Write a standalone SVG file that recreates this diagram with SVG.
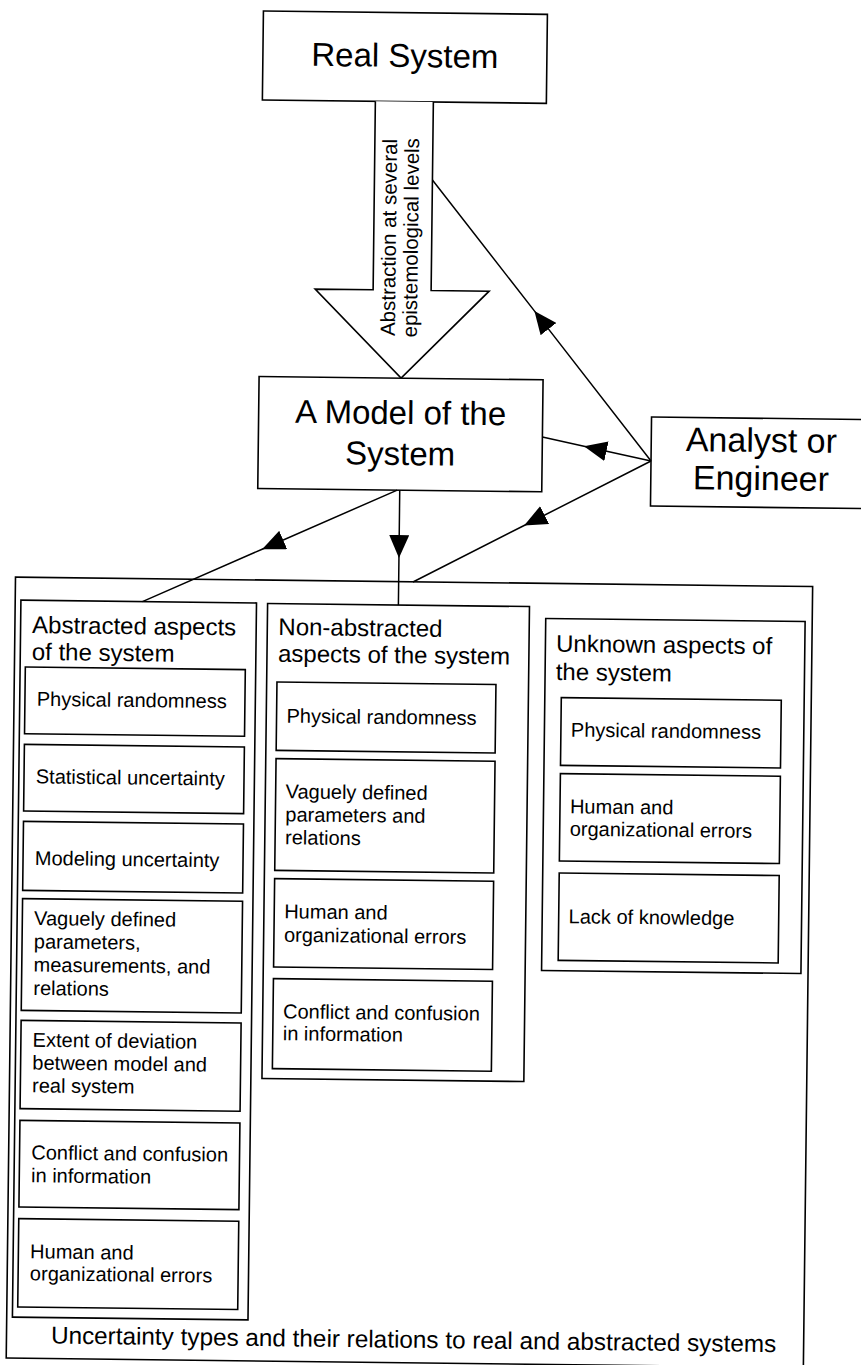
<svg xmlns="http://www.w3.org/2000/svg" width="861" height="1365" viewBox="0 0 861 1365">
<defs>
<style>
.box{fill:#fff;stroke:#000;stroke-width:1.6}
.con{fill:none;stroke:#000;stroke-width:1.5}
text{font-family:"Liberation Sans",Arial,Helvetica,sans-serif;fill:#000}
.big{font-size:33px;text-anchor:middle}
.ana{font-size:34px;text-anchor:middle}
.ttl{font-size:24px}
.itm{font-size:20px}
.cap{font-size:24.3px;text-anchor:middle}
.vt{font-size:20.5px;text-anchor:middle}
</style>
<marker id="ah" viewBox="0 0 23 20" markerUnits="userSpaceOnUse" markerWidth="23" markerHeight="20" refX="23" refY="10" orient="auto"><path d="M0,0 L23,10 L0,20 z" fill="#000"/></marker>
</defs>
<rect width="861" height="1365" fill="#fff"/>
<g transform="rotate(0.68 430 680)">
  <g id="real-system">
    <rect class="box" x="255.5" y="13" width="284" height="89"/>
    <text class="big" x="397.5" y="67.3">Real System</text>
  </g>
  <g id="abstraction-arrow">
    <path d="M368.5,102 L368.5,290.5 L310.5,290.5 L397.5,378.5 L484.5,290.5 L426.5,290.5 L426.5,102" fill="#fff" stroke="#000" stroke-width="1.6"/>
    <g transform="translate(397.5 238) rotate(-90)">
      <text class="vt" x="0" y="-6.8">Abstraction at several</text>
      <text class="vt" x="0" y="15.2">epistemological levels</text>
    </g>
  </g>
  <g id="model">
    <rect class="box" x="255.5" y="378.5" width="284" height="112"/>
    <text class="big" x="397.5" y="424.4">A Model of the</text>
    <text class="big" x="397.5" y="465.4">System</text>
  </g>
  <g id="analyst">
    <rect class="box" x="648.4" y="414.4" width="240" height="89"/>
    <text class="ana" x="758.5" y="448.1">Analyst or</text>
    <text class="ana" x="758.5" y="486.1">Engineer</text>
  </g>
  <g id="uncertainty-container">
    <rect class="box" x="14.3" y="582" width="797.2" height="781"/>
    <text class="cap" x="421.4" y="1348">Uncertainty types and their relations to real and abstracted systems</text>
  </g>
  <g id="abstracted-aspects">
    <rect class="box" x="20" y="605" width="235.6" height="717"/>
    <text class="ttl" x="31.5" y="637.7">Abstracted aspects</text>
    <text class="ttl" x="31.5" y="664.7">of the system</text>
    <g id="a1"><rect class="box" x="25.2" y="671.8" width="220" height="66.7"/><text class="itm" x="37" y="710.5">Physical randomness</text></g>
    <g id="a2"><rect class="box" x="25.2" y="749.2" width="220" height="66.6"/><text class="itm" x="37" y="788">Statistical uncertainty</text></g>
    <g id="a3"><rect class="box" x="25.2" y="826.2" width="220" height="69"/><text class="itm" x="37" y="869.7">Modeling uncertainty</text></g>
    <g id="a4"><rect class="box" x="25.2" y="903.5" width="220" height="111.7"/><text class="itm" x="37" y="929.7">Vaguely defined</text><text class="itm" x="37" y="953">parameters,</text><text class="itm" x="37" y="976.3">measurements, and</text><text class="itm" x="37" y="999.6">relations</text></g>
    <g id="a5"><rect class="box" x="25.2" y="1025.2" width="220" height="88.3"/><text class="itm" x="37" y="1051.4">Extent of deviation</text><text class="itm" x="37" y="1074.2">between model and</text><text class="itm" x="37" y="1097">real system</text></g>
    <g id="a6"><rect class="box" x="25.2" y="1125.2" width="220" height="86.6"/><text class="itm" x="37" y="1164">Conflict and confusion</text><text class="itm" x="37" y="1187">in information</text></g>
    <g id="a7"><rect class="box" x="25.2" y="1223.5" width="220" height="88.3"/><text class="itm" x="37" y="1263">Human and</text><text class="itm" x="37" y="1285">organizational errors</text></g>
  </g>
  <g id="non-abstracted-aspects">
    <rect class="box" x="266.7" y="605.4" width="261.9" height="475"/>
    <text class="ttl" x="277.8" y="636.8">Non-abstracted</text>
    <text class="ttl" x="277.8" y="663.5">aspects of the system</text>
    <g id="n1"><rect class="box" x="277" y="683.8" width="219" height="68.4"/><text class="itm" x="287" y="724.4">Physical randomness</text></g>
    <g id="n2"><rect class="box" x="277" y="760.5" width="219" height="111.7"/><text class="itm" x="287" y="800">Vaguely defined</text><text class="itm" x="287" y="823">parameters and</text><text class="itm" x="287" y="846">relations</text></g>
    <g id="n3"><rect class="box" x="277" y="880.5" width="219" height="88.3"/><text class="itm" x="287" y="920">Human and</text><text class="itm" x="287" y="943.4">organizational errors</text></g>
    <g id="n4"><rect class="box" x="277" y="980.5" width="219" height="90"/><text class="itm" x="287" y="1020">Conflict and confusion</text><text class="itm" x="287" y="1042">in information</text></g>
  </g>
  <g id="unknown-aspects">
    <rect class="box" x="545" y="617.1" width="259.4" height="352"/>
    <text class="ttl" x="555.7" y="650.2">Unknown aspects of</text>
    <text class="ttl" x="555.7" y="678.5">the system</text>
    <g id="u1"><rect class="box" x="561.5" y="696.1" width="220" height="67.7"/><text class="itm" x="571.5" y="735">Physical randomness</text></g>
    <g id="u2"><rect class="box" x="561.5" y="772.1" width="220" height="87.3"/><text class="itm" x="571.5" y="811.6">Human and</text><text class="itm" x="571.5" y="834">organizational errors</text></g>
    <g id="u3"><rect class="box" x="561.5" y="871.4" width="220" height="87.4"/><text class="itm" x="571.5" y="921.6">Lack of knowledge</text></g>
  </g>
  <g id="connectors">
    <path class="con" marker-mid="url(#ah)" d="M648.4,458.4 L530,309.7 L426.5,180"/>
    <path class="con" marker-mid="url(#ah)" d="M648.4,458.4 L581.2,444.4 L539.5,435.7"/>
    <path class="con" marker-mid="url(#ah)" d="M395,490.5 L260.6,551.2 L141.5,605"/>
    <path class="con" marker-mid="url(#ah)" d="M397.5,490.5 L397.5,558.4 L397.5,605.4"/>
    <path class="con" marker-mid="url(#ah)" d="M648.4,458.4 L522.3,524.4 L411.8,582.2"/>
  </g>
</g>
</svg>
